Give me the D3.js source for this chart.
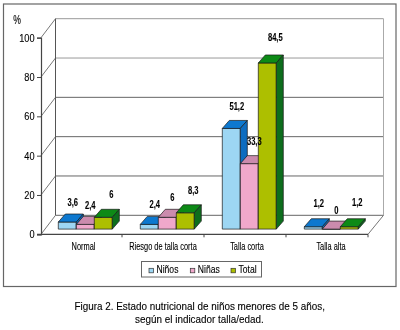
<!DOCTYPE html>
<html>
<head>
<meta charset="utf-8">
<script src="https://cdn.jsdelivr.net/npm/d3@7"></script>
<style>
  html, body { margin: 0; padding: 0; background: #fff; }
  svg { display: block; }
  text { font-family: "Liberation Sans", Arial, sans-serif; fill: #000; stroke: #000; stroke-width: 0.12; }
</style>
</head>
<body>
<svg id="chart" width="400" height="330"></svg>
<script>
var categories = ["Normal", "Riesgo de talla corta", "Talla corta", "Talla alta"]
var seriesNames = ["Niños", "Niñas", "Total"]
var ninos = [3.6, 2.4, 51.2, 1.2]
var ninas = [2.4, 6, 33.3, 0]
var total = [6, 8.3, 84.5, 1.2]
var labelNinos = ["3,6", "2,4", "51,2", "1,2"]
var labelNinas = ["2,4", "6", "33,3", "0"]
var labelTotal = ["6", "8,3", "84,5", "1,2"]
var yTicks = [0, 20, 40, 60, 80, 100]
var fronts = ["#9dd6f3", "#f0a8cb", "#adbf00"]
var tops = ["#0b78cf", "#cb8bad", "#0a8a14"]
var sides = ["#0a6cc0", "#b97a9c", "#0a6e1e"]

var svg = d3.select("#chart")

// the scan of the original is a bit soft
svg.append("filter").attr("id", "soft").append("feGaussianBlur").attr("stdDeviation", 0.25)
var root = svg.append("g").attr("filter", "url(#soft)")

var xLeft = 41, xRight = 368
var x = d3.scaleBand().domain(categories).range([40, xRight])
var y = d3.scaleLinear().domain([0, 100]).range([234.3, 37.7])
var wallDx = 14.5, wallDy = -19, wallRight = 383.5
var barW = 18, barDx = 7, barDy = -8
var barOffX = 4.3, barOffY = -5.2
var line = "#444"

// text squeezed horizontally, the original font is narrower than anything installed
function narrow(str, px, py, size, k, anchor, bold) {
  return root.append("text")
    .attr("transform", "translate(" + px + "," + py + ") scale(" + k + ",1)")
    .attr("text-anchor", anchor || "middle")
    .attr("font-size", size)
    .attr("font-weight", bold ? "bold" : null)
    .text(str)
}

// frame
root.append("rect").attr("x", 3.5).attr("y", 4).attr("width", 392.5).attr("height", 282.5)
  .attr("fill", "#fff").attr("stroke", "#666").attr("stroke-width", 1.2)

// back wall gridlines and the slanted bits on the left
yTicks.forEach(function(t) {
  root.append("line").attr("x1", xLeft + wallDx).attr("x2", wallRight)
    .attr("y1", y(t) + wallDy).attr("y2", y(t) + wallDy)
    .attr("stroke", t == 100 || t == 80 ? "#999" : "#666").attr("stroke-width", 1)
  root.append("line").attr("x1", xLeft).attr("x2", xLeft + wallDx)
    .attr("y1", y(t)).attr("y2", y(t) + wallDy)
    .attr("stroke", "#777").attr("stroke-width", 1)
})
root.append("line").attr("x1", xLeft + wallDx).attr("x2", xLeft + wallDx)
  .attr("y1", y(0) + wallDy).attr("y2", y(100) + wallDy).attr("stroke", "#555")
root.append("line").attr("x1", wallRight).attr("x2", wallRight)
  .attr("y1", y(0) + wallDy).attr("y2", y(100) + wallDy).attr("stroke", "#aaa")
root.append("line").attr("x1", xRight).attr("x2", wallRight)
  .attr("y1", y(0)).attr("y2", y(0) + wallDy).attr("stroke", "#777")

// y axis
var yAxis = d3.axisLeft(y).tickValues(yTicks).tickSize(4).tickFormat("")
var gy = root.append("g").attr("transform", "translate(" + xLeft + ",0)").call(yAxis)
gy.select(".domain").attr("stroke", line).attr("stroke-width", 1.2)
gy.selectAll(".tick line").attr("stroke", line)
yTicks.forEach(function(t) {
  narrow(t, 34.5, y(t) + 4, 11.5, 0.8, "end")
})

// x axis
var catNudge = [2.5, 0, 2, 4]
root.append("line").attr("x1", 37).attr("x2", xRight).attr("y1", y(0)).attr("y2", y(0))
  .attr("stroke", line).attr("stroke-width", 1.2)
categories.forEach(function(c, i) {
  var tx = x(c) + x.bandwidth()
  root.append("line").attr("x1", tx).attr("x2", tx).attr("y1", y(0)).attr("y2", y(0) + 3)
    .attr("stroke", line)
  narrow(c, x(c) + x.bandwidth() / 2 + catNudge[i], 250, 10.9, 0.68)
})

// bars
var seriesValues = [ninos, ninas, total]
var seriesLabels = [labelNinos, labelNinas, labelTotal]
categories.forEach(function(c, i) {
  var cx = x(c) + x.bandwidth() / 2 + barOffX
  seriesValues.forEach(function(vals, s) {
    var x0 = cx - 1.5 * barW + s * barW
    var x1 = x0 + barW
    var yb = y(0) + barOffY
    var yt = y(vals[i]) + barOffY
    var g = root.append("g").attr("stroke", "#1a1a1a").attr("stroke-width", 0.7)
    g.append("polygon").attr("fill", fronts[s]).attr("points", [[x0, yt], [x1, yt], [x1, yb], [x0, yb]].join(" "))
    g.append("polygon").attr("fill", tops[s])
      .attr("points", [[x0, yt], [x0 + barDx, yt + barDy], [x1 + barDx, yt + barDy], [x1, yt]].join(" "))
    g.append("polygon").attr("fill", sides[s])
      .attr("points", [[x1, yt], [x1 + barDx, yt + barDy], [x1 + barDx, yb + barDy], [x1, yb]].join(" "))
  })
})

// value labels go over every bar, each one sits a little differently in the original
var labelDx = [5.5, 5, 8]
var labelLift = [[16, 16.4, 18.4, 19.7], [15.4, 16.3, 18.6, 15], [19.3, 18.8, 22, 20.7]]
categories.forEach(function(c, i) {
  var cx = x(c) + x.bandwidth() / 2 + barOffX
  seriesValues.forEach(function(vals, s) {
    var x0 = cx - 1.5 * barW + s * barW
    narrow(seriesLabels[s][i], x0 + barW / 2 + labelDx[s], y(vals[i]) + barOffY - labelLift[s][i], 11.5, 0.66, "middle", true)
  })
})

// percent sign
narrow("%", 17, 24, 12, 0.72)

// legend
root.append("rect").attr("x", 141.5).attr("y", 261.5).attr("width", 120).attr("height", 15.5)
  .attr("fill", "#fff").attr("stroke", "#666")
var legendX = [149, 190.3, 231]
seriesNames.forEach(function(n, s) {
  root.append("rect").attr("x", legendX[s]).attr("y", 268.3).attr("width", 4.5).attr("height", 4.5)
    .attr("fill", fronts[s]).attr("stroke", "#333").attr("stroke-width", 0.7)
  narrow(n, legendX[s] + 7.5, 272.7, 11, 0.78, "start")
})

// caption
narrow("Figura 2. Estado nutricional de niños menores de 5 años,", 199.7, 310, 11.5, 0.86)
narrow("según el indicador talla/edad.", 199.4, 323.3, 11.5, 0.86)
</script>
</body>
</html>
